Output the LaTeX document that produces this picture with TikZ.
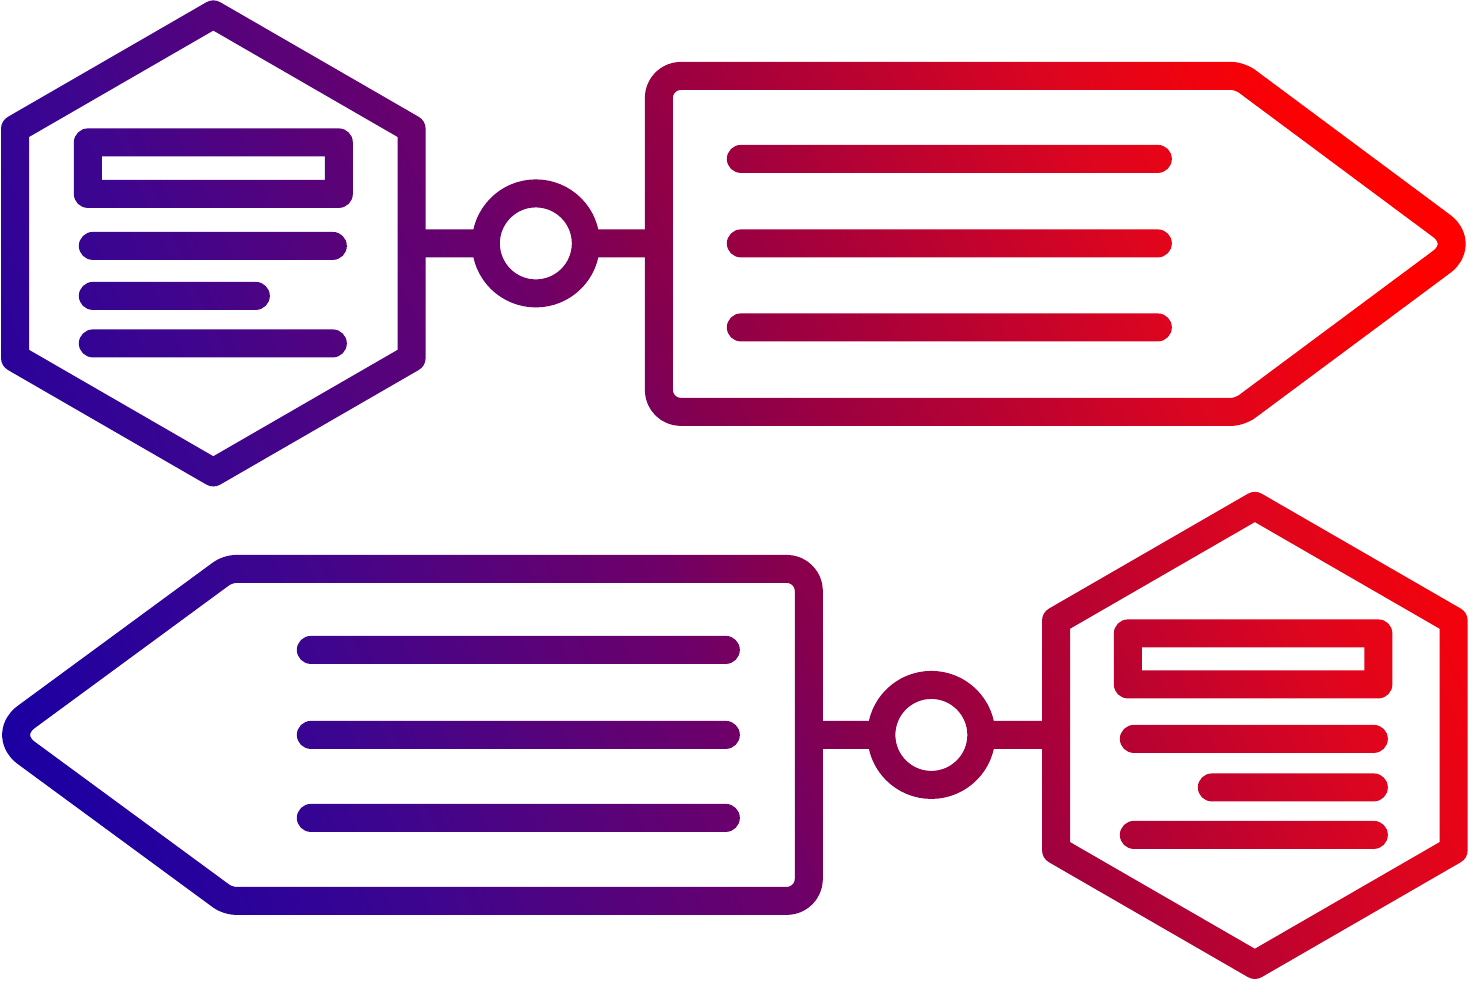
\documentclass[tikz,border=0pt]{standalone}
\usetikzlibrary{fadings}
\pgfdeclarehorizontalshading{icongrad}{100bp}{rgb(0bp)=(0.10,0,0.65); rgb(17bp)=(0.10,0,0.65); rgb(22.3bp)=(0.12,0,0.63); rgb(32.8bp)=(0.24,0.02,0.56); rgb(46bp)=(0.43,0,0.41); rgb(50bp)=(0.52,0,0.31); rgb(54bp)=(0.60,0,0.26); rgb(67.8bp)=(0.87,0.02,0.12); rgb(76.4bp)=(1,0,0); rgb(100bp)=(1,0,0)}
\tikzset{
  px/.style={x=0.02cm,y=-0.02cm,xshift=-14.69cm,yshift=9.8cm},
  stroke/.style={line width=0.56cm, line join=round, line cap=round},
  link/.style={line width=0.56cm, line cap=butt},
}
\newcommand\iconstrokes{%
  % top group
  \coordinate (hexA) at (213.5,243.5);
  \coordinate (ringA) at (536,243.5);
  \draw[stroke] (213.5,14.5) -- (411.8,129) -- (411.8,358) -- (213.5,472.5) -- (15.2,358) -- (15.2,129) -- cycle;
  \draw[stroke] (88,142.5) rectangle (339,194);
  \draw[stroke] (93,246) -- (333,246);
  \draw[stroke] (93,296) -- (256,296);
  \draw[stroke] (93,343.5) -- (333,343.5);
  \draw[stroke] (ringA) circle[radius=50];
  \draw[link] (411.8,243.5) -- ([xshift=-1cm]ringA);
  \draw[link] ([xshift=1cm]ringA) -- (659,243.5);
  \draw[stroke] (659,244) -- (659,98) .. controls (659,85.9) and (668.9,76) .. (681,76)
    -- (1232,76) .. controls (1236.4,76) and (1242.9,78.6) .. (1246.4,80.8)
    -- (1441.9,226.1) .. controls (1455.2,235.9) and (1455.2,252.1) .. (1441.9,261.9)
    -- (1246.4,407.2) .. controls (1242.9,409.4) and (1236.4,412) .. (1232,412)
    -- (681,412) .. controls (668.9,412) and (659,402.1) .. (659,390) -- cycle;
  \draw[stroke] (741,159) -- (1158,159);
  \draw[stroke] (741,243.5) -- (1158,243.5);
  \draw[stroke] (741,327.5) -- (1158,327.5);
  % bottom group
  \coordinate (hexB) at (1255,735.5);
  \coordinate (ringB) at (931.5,735);
  \draw[stroke] (1255,506) -- (1453.8,620.75) -- (1453.8,850.25) -- (1255,965) -- (1056.2,850.25) -- (1056.2,620.75) -- cycle;
  \draw[stroke] (1128,633.5) rectangle (1378.5,684.5);
  \draw[stroke] (1134,739) -- (1374,739);
  \draw[stroke] (1212,787.5) -- (1374,787.5);
  \draw[stroke] (1134,835) -- (1374,835);
  \draw[stroke] (ringB) circle[radius=50];
  \draw[link] (809,735) -- ([xshift=-1cm]ringB);
  \draw[link] ([xshift=1cm]ringB) -- (1056.2,735);
  \draw[stroke] (809,735) -- (809,591) .. controls (809,578.9) and (799.1,569) .. (787,569)
    -- (236,569) .. controls (231.6,569) and (225.1,571.1) .. (221.6,573.7)
    -- (26.2,717.2) .. controls (12.9,727) and (12.9,743) .. (26.2,752.8)
    -- (221.6,896.3) .. controls (225.1,898.9) and (231.6,901) .. (236,901)
    -- (787,901) .. controls (799.1,901) and (809,891.1) .. (809,879) -- cycle;
  \draw[stroke] (311,650) -- (726,650);
  \draw[stroke] (311,735) -- (726,735);
  \draw[stroke] (311,818) -- (726,818);
}
\begin{tikzfadingfrompicture}[name=iconmask]
  \begin{scope}[px]
    \fill[transparent!100] (-40,-40) rectangle (1509,1020);
    \begin{scope}[draw=transparent!0]
      \iconstrokes
    \end{scope}
  \end{scope}
\end{tikzfadingfrompicture}
\begin{document}
\begin{tikzpicture}
  \begin{scope}[px]
    \useasboundingbox (0,0) rectangle (1469,980);
    \fill[white] (0,0) rectangle (1469,980);
  \end{scope}
  \path[shading=icongrad, shading angle=24, path fading=iconmask, fit fading=false]
    (-14.69cm,-9.8cm) rectangle (14.69cm,9.8cm);
\end{tikzpicture}
\end{document}
